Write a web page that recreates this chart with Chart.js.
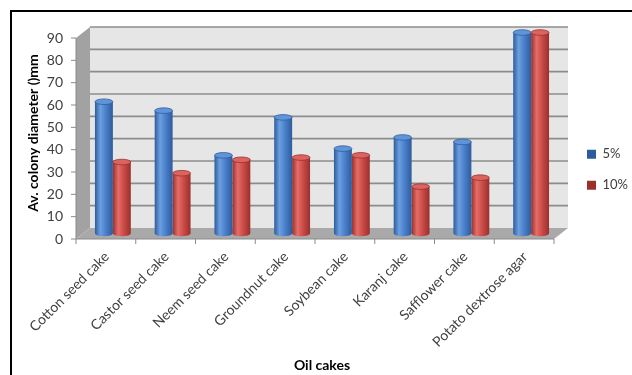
<!DOCTYPE html>
<html>
<head>
    <title>Oil cakes - colony diameter</title>
    <script src="https://cdn.jsdelivr.net/npm/chart.js"></script>
    <style>
        body {
            margin: 0;
            background: #fff;
            overflow: hidden;
        }
        .frame {
            position: absolute;
            left: 10px;
            top: 10px;
            width: 700px;
            height: 500px;
            border: 2px solid #000;
        }
        .chart-box {
            position: absolute;
            left: 0;
            top: 0;
            width: 632px;
            height: 375px;
        }
    </style>
</head>
<body>
    <div class="frame"></div>
    <div class="chart-box"><canvas id="oilChart" width="632" height="375"></canvas></div>

    <script>
        const categories = ['Cotton seed cake', 'Castor seed cake', 'Neem seed cake', 'Groundnut cake',
            'Soybean cake', 'Karanj cake', 'Safflower cake', 'Potato dextrose agar'];
        const series5 = [59, 55, 35, 52, 38, 43, 41, 90];
        const series10 = [32, 27, 33, 34, 35, 21, 25, 90];
        const yTicks = [0, 10, 20, 30, 40, 50, 60, 70, 80, 90];

        // half depth of the fake 3D box
        const DX = 7, DY = 5.5;
        const CAT_PCT = 0.6, BAR_PCT = 1;
        const FONT = 'Lato';
        const LEG_FONT = 13, LEG_PAD = 18;

        const blue = { solid: '#4b80cc', edge: '#2d5c9c', light: '#6c9fe0', cap: '#6094da', capLine: '#2f5f9b' };
        const red = { solid: '#cc4c48', edge: '#9a2f2b', light: '#e46d68', cap: '#dc645f', capLine: '#983230' };

        function cylinderFill(col) {
            return (c) => {
                const xs = c.chart.scales.x;
                if (c.type !== 'data' || !xs || xs.width === undefined) return col.solid;
                const cw = xs.getPixelForValue(1) - xs.getPixelForValue(0);
                const size = cw * CAT_PCT;
                const chunk = size / 2;
                const x0 = xs.getPixelForValue(c.dataIndex) - size / 2 + chunk * c.datasetIndex + chunk * (1 - BAR_PCT) / 2;
                const w = chunk * BAR_PCT;
                const g = c.chart.ctx.createLinearGradient(x0, 0, x0 + w, 0);
                g.addColorStop(0, col.edge);
                g.addColorStop(0.3, col.light);
                g.addColorStop(0.6, col.solid);
                g.addColorStop(1, col.edge);
                return g;
            };
        }

        const box3d = {
            id: 'box3d',
            beforeDatasetsDraw(chart) {
                const ctx = chart.ctx;
                const { left: L, right: R, top: T, bottom: B } = chart.chartArea;
                const ys = chart.scales.y, xs = chart.scales.x;
                const poly = (pts, fill) => {
                    ctx.beginPath();
                    pts.forEach((p, i) => i ? ctx.lineTo(p[0], p[1]) : ctx.moveTo(p[0], p[1]));
                    ctx.closePath();
                    ctx.fillStyle = fill;
                    ctx.fill();
                };
                ctx.save();
                ctx.fillStyle = '#e6e6e6';
                ctx.fillRect(L + DX, T - DY, R - L, B - T);
                poly([[L - DX, T + DY], [L + DX, T - DY], [L + DX, B - DY], [L - DX, B + DY]], '#a2a2a2');
                poly([[L - DX, B + DY], [L + DX, B - DY], [R + DX, B - DY], [R - DX, B + DY]], '#a9a9a9');

                ctx.strokeStyle = '#8c8c8c';
                ctx.lineWidth = 1.6;
                yTicks.forEach((v) => {
                    if (v === 0) return;
                    const y = ys.getPixelForValue(v) - DY;
                    ctx.beginPath();
                    ctx.moveTo(L + DX, y);
                    ctx.lineTo(R + DX, y);
                    ctx.stroke();
                });

                // front axes with tick marks
                ctx.strokeStyle = '#8a8a8a';
                ctx.lineWidth = 1;
                ctx.beginPath();
                ctx.moveTo(L - DX, T + DY);
                ctx.lineTo(L - DX, B + DY);
                ctx.lineTo(R - DX, B + DY);
                yTicks.forEach((v) => {
                    const y = ys.getPixelForValue(v) + DY;
                    ctx.moveTo(L - DX - 5, y);
                    ctx.lineTo(L - DX, y);
                });
                const cw = xs.getPixelForValue(1) - xs.getPixelForValue(0);
                for (let i = 0; i <= categories.length; i++) {
                    const x = xs.getPixelForValue(0) - cw / 2 + i * cw - DX;
                    ctx.moveTo(x, B + DY);
                    ctx.lineTo(x, B + DY + 5);
                }
                ctx.stroke();
                ctx.restore();
            },
            afterDatasetsDraw(chart) {
                const ctx = chart.ctx;
                const cols = [blue, red];
                ctx.save();
                chart.data.datasets.forEach((ds, di) => {
                    const meta = chart.getDatasetMeta(di);
                    meta.data.forEach((el) => {
                        const { x, y, base, width } = el.getProps(['x', 'y', 'base', 'width'], true);
                        const rx = width / 2, ry = 2.8;
                        ctx.fillStyle = el.options.backgroundColor;
                        ctx.beginPath();
                        ctx.ellipse(x, base, rx, ry, 0, 0, Math.PI * 2);
                        ctx.fill();
                        ctx.beginPath();
                        ctx.ellipse(x, y, rx, ry, 0, 0, Math.PI * 2);
                        ctx.fillStyle = cols[di].cap;
                        ctx.fill();
                        ctx.strokeStyle = cols[di].capLine;
                        ctx.lineWidth = 0.8;
                        ctx.stroke();
                    });
                });
                ctx.restore();
            },
            afterLayout(chart) {
                // move the legend next to the wall, centred like the original
                const lg = chart.legend;
                lg.left += 8; lg.right += 8;
                lg.top -= 34; lg.bottom -= 34;
            }
        };

        // right padding so the plot area ends where the original does
        const mctx = document.createElement('canvas').getContext('2d');
        mctx.font = LEG_FONT + 'px ' + FONT;
        const legendW = LEG_PAD + 9 + LEG_FONT / 2 + mctx.measureText('10%').width + 10;
        const padRight = 632 - 561 - legendW;

        new Chart(document.getElementById('oilChart'), {
            type: 'bar',
            data: {
                labels: categories,
                datasets: [
                    { label: '5%', data: series5, backgroundColor: cylinderFill(blue), borderWidth: 0,
                      barPercentage: BAR_PCT, categoryPercentage: CAT_PCT },
                    { label: '10%', data: series10, backgroundColor: cylinderFill(red), borderWidth: 0,
                      barPercentage: BAR_PCT, categoryPercentage: CAT_PCT }
                ]
            },
            options: {
                responsive: false,
                animation: false,
                events: [],
                layout: { padding: { top: 32.5, left: 25, right: padRight, bottom: 0 } },
                plugins: {
                    tooltip: { enabled: false },
                    legend: {
                        position: 'right',
                        labels: {
                            boxWidth: 9,
                            boxHeight: 9,
                            padding: LEG_PAD,
                            color: '#404040',
                            font: { family: FONT, size: LEG_FONT }
                        }
                    }
                },
                scales: {
                    x: {
                        grid: { display: false, drawTicks: false },
                        border: { display: false },
                        ticks: {
                            minRotation: 45,
                            maxRotation: 45,
                            padding: 15,
                            labelOffset: -6,
                            color: '#404040',
                            font: { family: FONT, size: 14 }
                        },
                        title: {
                            display: true,
                            text: 'Oil cakes',
                            color: '#000',
                            font: { family: FONT, size: 14, weight: 'bold' },
                            padding: { top: 0, bottom: 1 }
                        },
                        afterFit(scale) { scale.height = 141.5; }
                    },
                    y: {
                        min: 0,
                        max: 90,
                        afterBuildTicks(scale) { scale.ticks = yTicks.map(v => ({ value: v })); },
                        grid: { display: false, drawTicks: false },
                        border: { display: false },
                        ticks: {
                            padding: 20,
                            labelOffset: DY,
                            color: '#404040',
                            font: { family: FONT, size: 14 }
                        },
                        title: {
                            display: true,
                            text: 'Av. colony diameter ()mm',
                            color: '#000',
                            font: { family: FONT, size: 14, weight: 'bold' },
                            padding: { top: 0, bottom: 0 }
                        },
                        afterFit(scale) { scale.width = 58; }
                    }
                }
            },
            plugins: [box3d]
        });
    </script>
</body>
</html>
